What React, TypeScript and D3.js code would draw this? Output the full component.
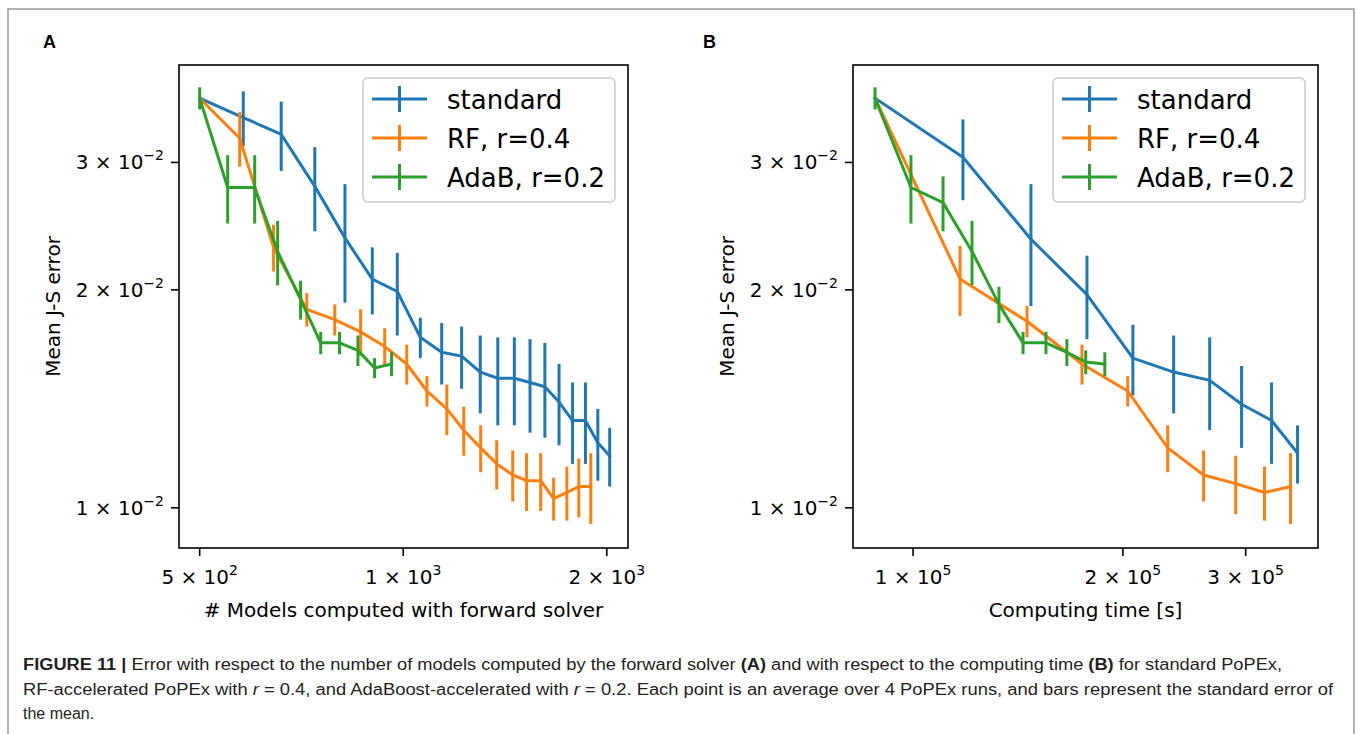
import React from "react";
import * as d3 from "d3";

// ---------- data ----------
const A_STD_X = [500, 580, 660, 740, 820, 900, 980, 1060, 1140, 1220, 1300, 1380, 1460, 1540, 1620, 1700, 1780, 1860, 1940, 2020];
const A_STD_Y = [0.0368, 0.0346, 0.0328, 0.0278, 0.0236, 0.0207, 0.0199, 0.0172, 0.0164, 0.0162, 0.0154, 0.0151, 0.0151, 0.0149, 0.0147, 0.0140, 0.0132, 0.0132, 0.0123, 0.0118];
const A_STD_E = [0, 0.0030, 0.0036, 0.0037, 0.0044, 0.0022, 0.0026, 0.0011, 0.0016, 0.0016, 0.0019, 0.0021, 0.0021, 0.0022, 0.0022, 0.0018, 0.0017, 0.0017, 0.0014, 0.0011];

const A_RF_X = [500, 573, 643, 720, 792, 865, 939, 1012, 1084, 1160, 1229, 1302, 1375, 1452, 1522, 1597, 1669, 1746, 1818, 1894];
const A_RF_Y = [0.0368, 0.0324, 0.0229, 0.0188, 0.0182, 0.0175, 0.0167, 0.0158, 0.0145, 0.0137, 0.0128, 0.0121, 0.0115, 0.0111, 0.0109, 0.0109, 0.0103, 0.0105, 0.0107, 0.0107];
const A_RF_E = [0, 0.0028, 0.0017, 0.0010, 0.0009, 0.0013, 0.0010, 0.0010, 0.0007, 0.0011, 0.0010, 0.0009, 0.0009, 0.0009, 0.0010, 0.0010, 0.0007, 0.0009, 0.0010, 0.0012];

const A_ADA_X = [500, 550, 603, 652, 705, 755, 805, 857, 907, 961];
const A_ADA_Y = [0.0368, 0.0277, 0.0277, 0.0226, 0.0194, 0.0169, 0.0169, 0.0165, 0.0156, 0.0158];
const A_ADA_E = [0.0013, 0.0030, 0.0030, 0.0023, 0.0012, 0.0006, 0.0006, 0.0008, 0.0005, 0.0006];

const B_STD_X = [88200, 117900, 147600, 177600, 206700, 236500, 266400, 296000, 326800, 356100];
const B_STD_Y = [0.0368, 0.0305, 0.0235, 0.0197, 0.0161, 0.0154, 0.0150, 0.0139, 0.0132, 0.0119];
const B_STD_E = [0, 0.0039, 0.0045, 0.0026, 0.0018, 0.0019, 0.0022, 0.0018, 0.0017, 0.0011];

const B_RF_X = [88200, 116800, 145700, 174700, 203200, 231900, 261100, 290300, 319300, 347900];
const B_RF_Y = [0.0368, 0.0207, 0.0181, 0.0158, 0.0145, 0.0121, 0.0111, 0.0108, 0.0105, 0.0107];
const B_RF_E = [0, 0.0023, 0.0009, 0.0010, 0.0007, 0.0009, 0.0009, 0.0010, 0.0009, 0.0012];

const B_ADA_X = [88200, 99300, 110400, 121500, 132800, 143800, 155100, 166200, 176900, 188400];
const B_ADA_Y = [0.0368, 0.0277, 0.0264, 0.0226, 0.0191, 0.0169, 0.0169, 0.0164, 0.0159, 0.0158];
const B_ADA_E = [0.0013, 0.0030, 0.0023, 0.0023, 0.0011, 0.0006, 0.0006, 0.0007, 0.0006, 0.0006];

const SERIES_NAMES = ["standard", "RF, r=0.4", "AdaB, r=0.2"];
const SERIES_COLORS = ["#1f77b4", "#ff7f0e", "#2ca02c"];

const X_TICKS_A = [500, 1000, 2000];
const X_TICKS_B = [100000, 200000, 300000];
const Y_TICKS = [0.01, 0.02, 0.03];

const X_LABEL_A = "# Models computed with forward solver";
const X_LABEL_B = "Computing time [s]";
const Y_LABEL = "Mean J-S error";

const W = 1357;
const H = 734;
const MPL = "DejaVu Sans, sans-serif";
const CAP = "Liberation Sans, Arial, sans-serif";

type Series = { x: number[]; y: number[]; e: number[] };

function sciParts(v: number) {
  const exp = Math.floor(Math.log10(v) + 1e-9);
  const mant = Math.round(v / Math.pow(10, exp));
  return { mant: String(mant), exp: exp < 0 ? "\u2212" + String(-exp) : String(exp) };
}

function Panel(props: {
  left: number; right: number; top: number; bottom: number;
  xDomain: [number, number]; xTicks: number[]; xLabel: string;
  series: Series[]; letter: string; letterX: number;
}) {
  const { left, right, top, bottom, xDomain, xTicks, xLabel, series, letter, letterX } = props;
  const x = d3.scaleLog().domain(xDomain).range([left, right]);
  const y = d3.scaleLog().domain([0.0088, 0.0409]).range([bottom, top]);
  const line = d3.line<[number, number]>().x((d) => x(d[0])).y((d) => y(d[1]));
  const cx = (left + right) / 2;
  const cy = (top + bottom) / 2;
  const legL = right - 13 - 252;
  const legT = top + 13;
  return (
    <g>
      <text x={letterX} y={48} fontFamily={CAP} fontWeight="bold" fontSize={18} fill="#000">{letter}</text>
      <defs>
        <clipPath id={"clip" + letter}>
          <rect x={left} y={top} width={right - left} height={bottom - top} />
        </clipPath>
      </defs>
      <g clipPath={`url(#clip${letter})`}>
        {series.map((s, si) => (
          <g key={si}>
            {s.x.map((xv, i) => (
              <line key={i} x1={x(xv)} x2={x(xv)} y1={y(s.y[i] - s.e[i])} y2={y(s.y[i] + s.e[i])}
                stroke={SERIES_COLORS[si]} strokeWidth={3} />
            ))}
            <path d={line(s.x.map((xv, i) => [xv, s.y[i]] as [number, number])) || ""} fill="none"
              stroke={SERIES_COLORS[si]} strokeWidth={3} strokeLinejoin="round" strokeLinecap="square" />
          </g>
        ))}
      </g>
      <rect x={left} y={top} width={right - left} height={bottom - top} fill="none" stroke="#000" strokeWidth={1.6} />
      {/* x ticks */}
      {xTicks.map((t) => {
        const p = sciParts(t);
        return (
          <g key={t}>
            <line x1={x(t)} x2={x(t)} y1={bottom} y2={bottom + 8} stroke="#000" strokeWidth={1.6} />
            <text x={x(t)} y={bottom + 36} fontFamily={MPL} fontSize={20} textAnchor="middle" fill="#000">
              {p.mant + " \u00d7 10"}
              <tspan fontSize={14} dy={-9}>{p.exp}</tspan>
            </text>
          </g>
        );
      })}
      {/* y ticks */}
      {Y_TICKS.map((t) => {
        const p = sciParts(t);
        return (
          <g key={t}>
            <line x1={left - 8} x2={left} y1={y(t)} y2={y(t)} stroke="#000" strokeWidth={1.6} />
            <text x={left - 15} y={y(t) + 7} fontFamily={MPL} fontSize={20} textAnchor="end" fill="#000">
              {p.mant + " \u00d7 10"}
              <tspan fontSize={14} dy={-9}>{p.exp}</tspan>
            </text>
          </g>
        );
      })}
      <text x={cx} y={bottom + 69} fontFamily={MPL} fontSize={20} textAnchor="middle" fill="#000">{xLabel}</text>
      <text transform={`translate(${left - 126},${cy}) rotate(-90)`} fontFamily={MPL} fontSize={20}
        textAnchor="middle" dominantBaseline="central" fill="#000">{Y_LABEL}</text>
      {/* legend */}
      <rect x={legL} y={legT} width={252} height={124} rx={5} ry={5} fill="#fff" fillOpacity={0.8}
        stroke="#cccccc" strokeWidth={1.6} />
      {SERIES_NAMES.map((name, i) => {
        const ry = legT + 21 + i * 39;
        const hx0 = legL + 9;
        const hx1 = legL + 64;
        return (
          <g key={name}>
            <line x1={hx0} x2={hx1} y1={ry} y2={ry} stroke={SERIES_COLORS[i]} strokeWidth={3} />
            <line x1={(hx0 + hx1) / 2} x2={(hx0 + hx1) / 2} y1={ry - 13} y2={ry + 13} stroke={SERIES_COLORS[i]} strokeWidth={3} />
            <text x={legL + 84} y={ry + 9.5} fontFamily={MPL} fontSize={26} fill="#000">{name}</text>
          </g>
        );
      })}
    </g>
  );
}

export default function App() {
  const seriesA: Series[] = [
    { x: A_STD_X, y: A_STD_Y, e: A_STD_E },
    { x: A_RF_X, y: A_RF_Y, e: A_RF_E },
    { x: A_ADA_X, y: A_ADA_Y, e: A_ADA_E },
  ];
  const seriesB: Series[] = [
    { x: B_STD_X, y: B_STD_Y, e: B_STD_E },
    { x: B_RF_X, y: B_RF_Y, e: B_RF_E },
    { x: B_ADA_X, y: B_ADA_Y, e: B_ADA_E },
  ];
  return (
    <svg width={W} height={H} style={{ position: "absolute", left: 0, top: 0, background: "#fff" }}>
      <rect x={0} y={0} width={W} height={H} fill="#fff" />
      <rect x={8} y={9} width={1346} height={800} fill="none" stroke="#999" strokeWidth={1.5} />
      <Panel left={179} right={628} top={65} bottom={548} xDomain={[466, 2150]} xTicks={X_TICKS_A}
        xLabel={X_LABEL_A} series={seriesA} letter="A" letterX={43} />
      <Panel left={853} right={1318} top={65} bottom={548} xDomain={[82000, 381000]} xTicks={X_TICKS_B}
        xLabel={X_LABEL_B} series={seriesB} letter="B" letterX={703} />
      <g fontFamily={CAP} fontSize={16} fill="#231f20">
        <text x={23} y={670} textLength={1259} lengthAdjust="spacingAndGlyphs">
          <tspan fontWeight="bold">FIGURE 11 | </tspan>
          <tspan>Error with respect to the number of models computed by the forward solver </tspan>
          <tspan fontWeight="bold">(A)</tspan>
          <tspan> and with respect to the computing time </tspan>
          <tspan fontWeight="bold">(B)</tspan>
          <tspan> for standard PoPEx,</tspan>
        </text>
        <text x={23} y={695} textLength={1310} lengthAdjust="spacingAndGlyphs">
          <tspan>RF-accelerated PoPEx with </tspan>
          <tspan fontStyle="italic">r</tspan>
          <tspan> = 0.4, and AdaBoost-accelerated with </tspan>
          <tspan fontStyle="italic">r</tspan>
          <tspan> = 0.2. Each point is an average over 4 PoPEx runs, and bars represent the standard error of</tspan>
        </text>
        <text x={23} y={719}>the mean.</text>
      </g>
    </svg>
  );
}
